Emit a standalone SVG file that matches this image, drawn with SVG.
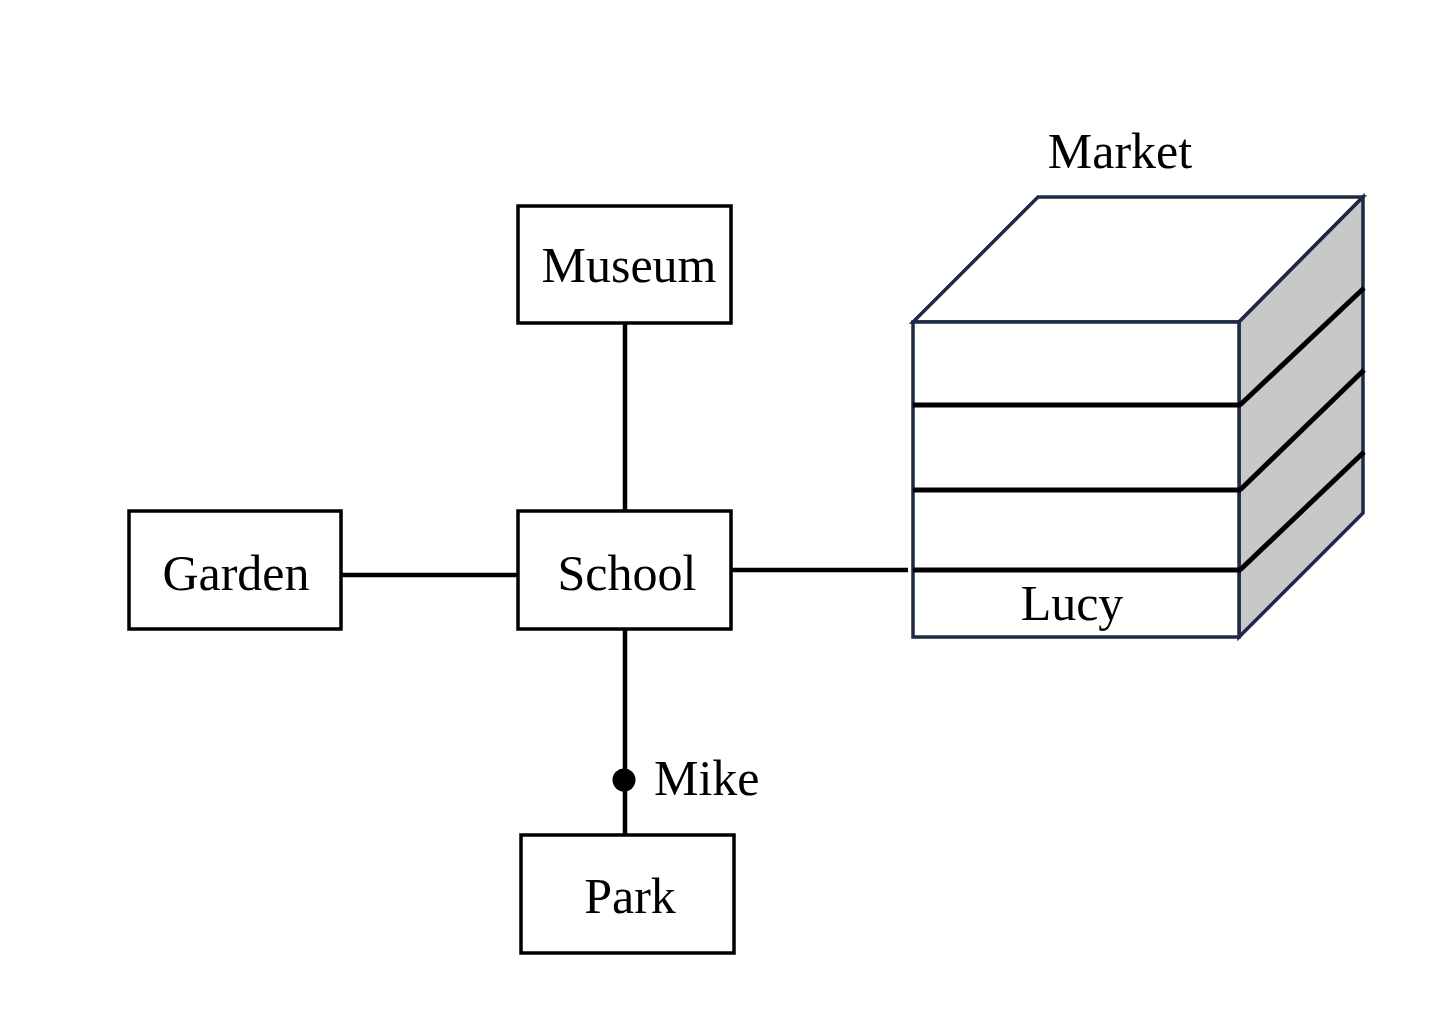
<svg xmlns="http://www.w3.org/2000/svg" width="1450" height="1012" viewBox="0 0 1450 1012">
<style>
.box{fill:#fff;stroke:#000;stroke-width:3.5}
.t{font-family:"Liberation Serif","Times New Roman",serif;font-size:50px;fill:#000}
.c{text-anchor:middle}
.edge{stroke:#000;stroke-width:4.5;fill:none}
.cube{stroke:#1e2a45;stroke-width:3.5;stroke-linejoin:miter}
.shelf{stroke:#000;stroke-width:5;fill:none}
</style>
<rect width="1450" height="1012" fill="#fff"/>
<g id="connectors">
<line class="edge" x1="625" y1="323" x2="625" y2="511"/>
<line class="edge" x1="341" y1="575" x2="518" y2="575"/>
<line class="edge" x1="731" y1="570" x2="908" y2="570"/>
<line class="edge" x1="625" y1="629" x2="625" y2="835"/>
<circle cx="624" cy="780" r="11.5" fill="#000"/>
<text class="t" x="654" y="795">Mike</text>
</g>
<g id="museum">
<rect class="box" x="518" y="206" width="213" height="117"/>
<text class="t c" x="629" y="282">Museum</text>
</g>
<g id="garden">
<rect class="box" x="129" y="511" width="212" height="118"/>
<text class="t c" x="236" y="590">Garden</text>
</g>
<g id="school">
<rect class="box" x="518" y="511" width="213" height="118"/>
<text class="t c" x="627" y="590">School</text>
</g>
<g id="park">
<rect class="box" x="521" y="835" width="213" height="118"/>
<text class="t c" x="630" y="913">Park</text>
</g>
<g id="market">
<polygon class="cube" fill="#fff" points="913,322 1038,197 1363,197 1239,322"/>
<polygon class="cube" fill="#c8c8c8" points="1239,322 1363,197 1363,513 1239,637"/>
<rect class="cube" fill="#fff" x="913" y="322" width="326" height="315"/>
<line class="shelf" x1="913" y1="405" x2="1241" y2="405"/>
<line class="shelf" x1="913" y1="490" x2="1241" y2="490"/>
<line class="shelf" x1="913" y1="570" x2="1241" y2="570"/>
<line class="shelf" x1="1240" y1="405" x2="1364" y2="288"/>
<line class="shelf" x1="1240" y1="490" x2="1364" y2="370"/>
<line class="shelf" x1="1240" y1="570" x2="1364" y2="452"/>
<text class="t c" x="1120" y="168">Market</text>
<text class="t c" x="1072" y="620">Lucy</text>
</g>
</svg>
